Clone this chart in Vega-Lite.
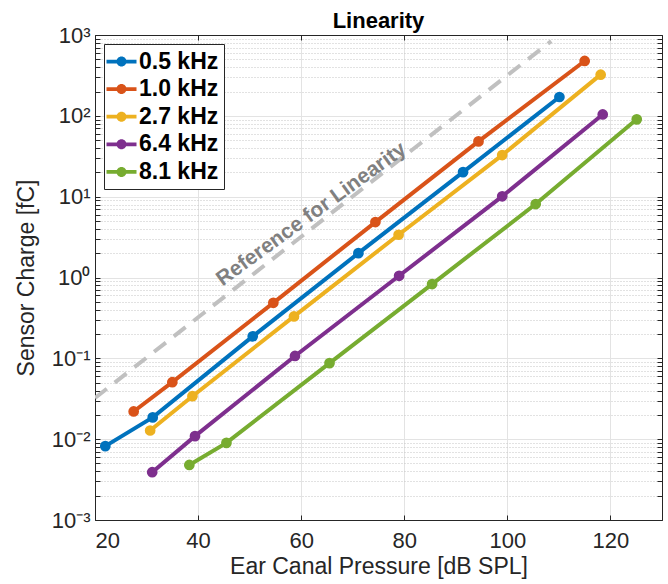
{
  "$schema": "https://vega.github.io/schema/vega-lite/v6.json",
  "width": 567,
  "height": 485,
  "autosize": {"type": "none"},
  "padding": {"left": 95, "top": 35, "right": 6, "bottom": 64},
  "background": "white",
  "title": {"text": "Linearity", "fontSize": 22, "fontWeight": "bold", "font": "Liberation Sans", "color": "#000000", "anchor": "middle", "offset": -9},
  "config": {"view": {"stroke": "#262626", "strokeWidth": 1}, "font": "Liberation Sans"},
  "datasets": {
    "series": [
      {"f": "0.5 kHz", "p": 22.0, "q": 0.0082},
      {"f": "0.5 kHz", "p": 31.2, "q": 0.0186},
      {"f": "0.5 kHz", "p": 50.6, "q": 0.187},
      {"f": "0.5 kHz", "p": 71.1, "q": 2.0},
      {"f": "0.5 kHz", "p": 91.4, "q": 20.1},
      {"f": "0.5 kHz", "p": 110.1, "q": 171},
      {"f": "1.0 kHz", "p": 27.5, "q": 0.022},
      {"f": "1.0 kHz", "p": 35.0, "q": 0.0507},
      {"f": "1.0 kHz", "p": 54.6, "q": 0.486},
      {"f": "1.0 kHz", "p": 74.4, "q": 4.85},
      {"f": "1.0 kHz", "p": 94.4, "q": 48.3},
      {"f": "1.0 kHz", "p": 115.0, "q": 477},
      {"f": "2.7 kHz", "p": 30.7, "q": 0.0128},
      {"f": "2.7 kHz", "p": 38.9, "q": 0.034},
      {"f": "2.7 kHz", "p": 58.6, "q": 0.33},
      {"f": "2.7 kHz", "p": 78.9, "q": 3.38},
      {"f": "2.7 kHz", "p": 99.0, "q": 32.7},
      {"f": "2.7 kHz", "p": 118.1, "q": 323},
      {"f": "6.4 kHz", "p": 31.1, "q": 0.0039},
      {"f": "6.4 kHz", "p": 39.4, "q": 0.0109},
      {"f": "6.4 kHz", "p": 58.8, "q": 0.107},
      {"f": "6.4 kHz", "p": 79.0, "q": 1.05},
      {"f": "6.4 kHz", "p": 99.0, "q": 10.1},
      {"f": "6.4 kHz", "p": 118.5, "q": 104},
      {"f": "8.1 kHz", "p": 38.3, "q": 0.0048},
      {"f": "8.1 kHz", "p": 45.5, "q": 0.009},
      {"f": "8.1 kHz", "p": 65.5, "q": 0.0873},
      {"f": "8.1 kHz", "p": 85.4, "q": 0.83},
      {"f": "8.1 kHz", "p": 105.5, "q": 8.1},
      {"f": "8.1 kHz", "p": 125.1, "q": 90.5}
    ],
    "reference": [
      {"p": 20, "q": 0.0323},
      {"p": 108.5, "q": 840}
    ],
    "note": [
      {"label": "Reference for Linearity", "p": 62.0, "q": 6.05}
    ]
  },
  "layer": [
    {
      "data": {"name": "reference"},
      "mark": {"type": "line", "color": "#c0c0c0", "strokeWidth": 4, "strokeDash": [15, 10], "clip": true},
      "encoding": {
        "x": {
          "field": "p", "type": "quantitative",
          "scale": {"domain": [20, 130], "nice": false, "zero": false},
          "axis": {
            "orient": "bottom", "values": [20, 40, 60, 80, 100, 120],
            "grid": true, "gridColor": "#e3e3e3", "gridWidth": 1,
            "tickSize": -5, "tickColor": "#262626", "domainColor": "#262626",
            "labelPadding": 15, "labelFontSize": 22, "labelColor": "#262626", "labelFont": "Liberation Sans",
            "title": "Ear Canal Pressure [dB SPL]", "titleFontSize": 23, "titleFontWeight": "normal",
            "titleColor": "#262626", "titleFont": "Liberation Sans", "titlePadding": 4
          }
        },
        "y": {
          "field": "q", "type": "quantitative",
          "scale": {"type": "log", "domain": [0.001, 1000], "nice": false},
          "axis": {
            "orient": "left",
            "values": [0.001,0.002,0.003,0.004,0.005,0.006,0.007,0.008,0.009,0.01,0.02,0.03,0.04,0.05,0.06,0.07,0.08,0.09,0.1,0.2,0.3,0.4,0.5,0.6,0.7,0.8,0.9,1,2,3,4,5,6,7,8,9,10,20,30,40,50,60,70,80,90,100,200,300,400,500,600,700,800,900,1000],
            "labelExpr": "abs(log(datum.value)/LN10 - round(log(datum.value)/LN10)) > 0.001 ? '' : ['10⁻³','10⁻²','10⁻¹','10⁰','10¹','10²','10³'][round(log(datum.value)/LN10)+3]",
            "labelOverlap": false, "labelBound": false,
            "grid": true,
            "gridColor": {"condition": {"test": "abs(log(datum.value)/LN10 - round(log(datum.value)/LN10)) > 0.001", "value": "#c4c4c4"}, "value": "#e3e3e3"},
            "gridDash": {"condition": {"test": "abs(log(datum.value)/LN10 - round(log(datum.value)/LN10)) > 0.001", "value": [1, 2]}, "value": []},
            "tickSize": -5, "tickColor": "#262626", "domainColor": "#262626",
            "labelPadding": 10, "labelFontSize": 22, "labelColor": "#262626", "labelFont": "Liberation Sans",
            "title": "Sensor Charge [fC]", "titleFontSize": 23, "titleFontWeight": "normal",
            "titleColor": "#262626", "titleFont": "Liberation Sans", "titlePadding": 13
          }
        }
      }
    },
    {
      "data": {"name": "series"},
      "mark": {"type": "line", "strokeWidth": 4, "point": {"filled": true, "size": 115, "opacity": 1}},
      "encoding": {
        "x": {
          "field": "p", "type": "quantitative",
          "scale": {"domain": [20, 130], "nice": false, "zero": false},
          "axis": {"orient": "top", "values": [20, 40, 60, 80, 100, 120], "labels": false, "grid": false, "tickSize": -5, "tickColor": "#262626", "domainColor": "#262626", "title": null}
        },
        "y": {
          "field": "q", "type": "quantitative",
          "scale": {"type": "log", "domain": [0.001, 1000], "nice": false},
          "axis": {
            "orient": "right",
            "values": [0.001,0.002,0.003,0.004,0.005,0.006,0.007,0.008,0.009,0.01,0.02,0.03,0.04,0.05,0.06,0.07,0.08,0.09,0.1,0.2,0.3,0.4,0.5,0.6,0.7,0.8,0.9,1,2,3,4,5,6,7,8,9,10,20,30,40,50,60,70,80,90,100,200,300,400,500,600,700,800,900,1000],
            "labels": false, "grid": false, "tickSize": -5, "tickColor": "#262626", "domainColor": "#262626", "title": null
          }
        },
        "color": {
          "field": "f", "type": "nominal",
          "scale": {"domain": ["0.5 kHz", "1.0 kHz", "2.7 kHz", "6.4 kHz", "8.1 kHz"], "range": ["#0072BD", "#D95319", "#EDB120", "#7E2F8E", "#77AC30"]},
          "legend": {
            "orient": "top-left", "offset": 9, "title": null,
            "symbolType": "M-1.2,-0.15L1.2,-0.15L1.2,0.15L-1.2,0.15Z M-0.4,0A0.4,0.4,0,0,1,0.4,0A0.4,0.4,0,0,1,-0.4,0Z",
            "symbolSize": 625, "symbolStrokeWidth": 0,
            "labelFontSize": 23, "labelFontWeight": "bold", "labelColor": "#000000", "labelFont": "Liberation Sans",
            "labelOffset": 5, "rowPadding": 2.6, "padding": 5,
            "strokeColor": "#262626", "fillColor": "#ffffff",
            "encode": {"symbols": {"update": {"fill": {"scale": "color", "field": "value"}, "strokeWidth": {"value": 0}, "opacity": {"value": 1}}}}
          }
        }
      }
    },
    {
      "data": {"name": "note"},
      "mark": {"type": "text", "angle": 324, "font": "Liberation Sans", "fontSize": 21, "fontWeight": "bold", "color": "#808080", "align": "center", "baseline": "middle"},
      "encoding": {
        "x": {"field": "p", "type": "quantitative", "scale": {"domain": [20, 130], "nice": false, "zero": false}, "axis": null},
        "y": {"field": "q", "type": "quantitative", "scale": {"type": "log", "domain": [0.001, 1000], "nice": false}, "axis": null},
        "text": {"field": "label"}
      }
    }
  ],
  "resolve": {"axis": {"x": "independent", "y": "independent"}}
}
